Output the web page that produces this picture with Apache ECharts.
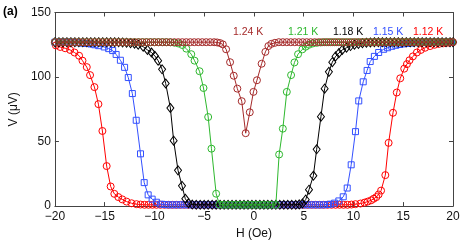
<!DOCTYPE html>
<html><head><meta charset="utf-8">
<script src="https://cdn.jsdelivr.net/npm/echarts@6/dist/echarts.min.js"></script>
<style>html,body{margin:0;padding:0;background:#fff}#c{width:463px;height:245px}</style>
</head><body><div id="c"></div>
<script>
// Temperature labels (series names)
const seriesNames = ['1.12 K', '1.15 K', '1.18 K', '1.21 K', '1.24 K'];
const xTicks = [-20, -15, -10, -5, 0, 5, 10, 15, 20];
const yTicks = [0, 50, 100, 150];

// [H (Oe), V (uV)] pairs
const t112 = [[-19.9,124.5],[-19.47,123.3],[-18.97,122.3],[-18.47,121],[-18.03,119],[-17.57,116.5],[-17.23,112.7],[-16.8,107.7],[-16.47,101.5],[-16.03,92.2],[-15.63,79],[-15.23,58.2],[-14.8,31],[-14.4,15.2],[-14.03,9.5],[-13.63,7],[-13.23,5.2],[-12.8,3.5],[-12.3,2.2],[-11.8,1.5],[-11.4,1.2],[-11.0,1],
[-10.6,1],[-10.2,1],[-9.8,1],[-9.4,1],[-9.0,1],[-8.6,1],[-8.2,1],[-7.8,1],[-7.4,1],[-7.0,1],[-6.6,1],[-6.2,1],[-5.8,1],[-5.4,1],[-5.0,1],[-4.6,1],[-4.2,1],[-3.8,1],[-3.4,1],[-3.0,1],[-2.6,1],[-2.2,1],[-1.8,1],[-1.4,1],[-1.0,1],[-0.6,1],[-0.2,1],[0.2,1],[0.6,1],[1.0,1],[1.4,1],[1.8,1],[2.2,1],[2.6,1],[3.0,1],[3.4,1],[3.8,1],[4.2,1],[4.6,1],[5.0,1],[5.4,1],[5.8,1],[6.2,1],[6.6,1],[7.0,1],[7.4,1],[7.8,1],[8.2,1],[8.6,1],[9.0,1],[9.4,1],[9.8,1.2],[10.2,1.5],
[10.7,2],[11.1,2.7],[11.43,3.5],[11.77,4.5],[12.03,5.7],[12.3,7],[12.53,9],[12.77,12],[13.2,24],[13.53,49],[13.97,72.3],[14.35,88],[14.7,99],[15.1,106.5],[15.37,110],[15.63,113],[15.97,116],[16.37,119],[16.77,121],[17.2,122.7],[17.7,124],[18.15,125],[18.6,125.7],[19.05,126.2],[19.5,126.6],[19.95,127]];

const t115 = [[-20,127],[-19.6,127],[-19.2,127],[-18.8,127],[-18.4,127],[-18.0,126.8],[-17.6,126.6],[-17.2,126.3],[-16.8,126],[-16.4,125.6],[-16.0,125],[-15.6,124.3],[-15.05,123.3],[-14.6,122],[-14.2,120.5],[-13.85,117.5],[-13.42,113],[-13.0,107.5],[-12.63,99.6],[-12.22,87.2],[-11.83,66.5],[-11.4,40.5],[-11.03,18.2],[-10.63,8.7],[-10.23,5.4],[-9.8,3],[-9.37,1.5],[-8.97,1.2],
[-8.6,1],[-8.2,1],[-7.8,1],[-7.4,1],[-7.0,1],[-6.6,1],[-6.2,1],[-5.8,1],[-5.4,1],[-5.0,1],[-4.6,1],[-4.2,1],[-3.8,1],[-3.4,1],[-3.0,1],[-2.6,1],[-2.2,1],[-1.8,1],[-1.4,1],[-1.0,1],[-0.6,1],[-0.2,1],[0.2,1],[0.6,1],[1.0,1],[1.4,1],[1.8,1],[2.2,1],[2.6,1],[3.0,1],[3.4,1],[3.8,1],[4.2,1],[4.6,1],[5.0,1],[5.4,1],[5.8,1],[6.2,1],[6.6,1],[7.0,1],[7.4,1.2],[7.7,1.5],
[8.1,2.3],[8.53,4],[8.97,7.2],[9.37,14],[9.77,32],[10.2,57.7],[10.53,81.5],[10.98,96.3],[11.37,105.1],[11.68,112],[12.1,116],[12.53,119],[13.03,121.5],[13.43,122.7],[13.85,123.8],[14.25,124.6],[14.65,125.2],[15.05,125.7],[15.45,126],[15.85,126.3],[16.25,126.6],[16.65,126.8],[17.05,127],[17.45,127],[17.85,127],[18.25,127],[18.65,127],[19.05,127],[19.45,127],[19.85,127]];

const t118 = [[-20,127],[-19.6,127],[-19.2,127],[-18.8,127],[-18.4,127],[-18.0,127],[-17.6,127],[-17.2,127],[-16.8,127],[-16.4,127],[-16.0,127],[-15.6,127],[-15.2,127],[-14.8,127],[-14.4,127],[-14.0,127],[-13.6,126.9],[-13.2,126.8],[-12.8,126.6],[-12.4,126.3],[-12.0,125.8],[-11.63,125],[-11.13,123.5],[-10.7,121],[-10.3,119],[-9.97,116.5],[-9.63,112.7],[-9.23,106],[-8.87,95],[-8.4,76],[-8.07,50.7],[-7.63,27.7],[-7.23,15.7],[-6.9,5.7],[-6.57,2.2],[-6.2,1.2],
[-5.8,1],[-5.4,1],[-5.0,1],[-4.6,1],[-4.2,1],[-3.8,1],[-3.4,1],[-3.0,1],[-2.6,1],[-2.2,1],[-1.8,1],[-1.4,1],[-1.0,1],[-0.6,1],[-0.2,1],[0.2,1],[0.6,1],[1.0,1],[1.4,1],[1.8,1],[2.2,1],[2.6,1],[3.0,1],[3.4,1],[3.8,1],[4.2,1],[4.55,1.3],
[4.87,2],[5.2,5],[5.53,12.7],[5.97,23.5],[6.3,44],[6.73,69.3],[7.1,91],[7.53,104],[7.87,111.5],[8.2,116],[8.53,118.5],[8.87,121],[9.3,122.7],[9.7,124],[10.1,125],[10.5,125.7],[10.9,126.2],[11.3,126.6],[11.7,126.8],[12.1,127],[12.5,127],[12.9,127],[13.3,127],[13.7,127],[14.1,127],[14.5,127],[14.9,127],[15.3,127],[15.7,127],[16.1,127],[16.5,127],[16.9,127],[17.3,127],[17.7,127],[18.1,127],[18.5,127],[18.9,127],[19.3,127],[19.7,127],[20,127]];

const t121 = [[-20,127],[-19.6,127],[-19.2,127],[-18.8,127],[-18.4,127],[-18.0,127],[-17.6,127],[-17.2,127],[-16.8,127],[-16.4,127],[-16.0,127],[-15.6,127],[-15.2,127],[-14.8,127],[-14.4,127],[-14.0,127],[-13.6,127],[-13.2,127],[-12.8,127],[-12.4,127],[-12.0,127],[-11.6,127],[-11.2,127],[-10.8,127],[-10.4,127],[-10.0,127],[-9.6,127],[-9.2,127],[-8.8,127],[-8.4,126.9],[-8.0,126.6],[-7.6,126],[-7.2,124.8],[-6.8,122],[-6.3,117.7],[-5.97,112.7],[-5.47,104.5],[-5.07,91.5],[-4.6,69],[-4.27,44.5],[-3.8,9.6],[-3.47,1.2],
[-3.1,1],[-2.7,1],[-2.3,1],[-1.9,1],[-1.5,1],[-1.1,1],[-0.7,1],[-0.3,1],[0.1,1],[0.5,1],[0.9,1],[1.3,1],[1.7,1],[2.2,1],
[2.53,40],[2.9,60],[3.3,88.5],[3.73,101.5],[4.07,111.3],[4.43,117.7],[4.87,121.5],[5.2,123.5],[5.53,125],[5.9,126],[6.3,126.5],[6.7,126.8],[7.1,127],[7.5,127],[7.9,127],[8.3,127],[8.7,127],[9.1,127],[9.5,127],[9.9,127],[10.3,127],[10.7,127],[11.1,127],[11.5,127],[11.9,127],[12.3,127],[12.7,127],[13.1,127],[13.5,127],[13.9,127],[14.3,127],[14.7,127],[15.1,127],[15.5,127],[15.9,127],[16.3,127],[16.7,127],[17.1,127],[17.5,127],[17.9,127],[18.3,127],[18.7,127],[19.1,127],[19.5,127],[19.9,127]];

const t124 = [[-20,127],[-19.6,127],[-19.2,127],[-18.8,127],[-18.4,127],[-18.0,127],[-17.6,127],[-17.2,127],[-16.8,127],[-16.4,127],[-16.0,127],[-15.6,127],[-15.2,127],[-14.8,127],[-14.4,127],[-14.0,127],[-13.6,127],[-13.2,127],[-12.8,127],[-12.4,127],[-12.0,127],[-11.6,127],[-11.2,127],[-10.8,127],[-10.4,127],[-10.0,127],[-9.6,127],[-9.2,127],[-8.8,127],[-8.4,127],[-8.0,127],[-7.6,127],[-7.2,127],[-6.8,127],[-6.4,127],[-6.0,127],[-5.6,127],[-5.2,127],[-4.8,127],[-4.4,127],[-4.0,127],[-3.7,126.8],[-3.4,126.3],[-3.13,125.3],[-2.8,121.5],[-2.4,111.5],[-2.03,101],[-1.67,91],[-1.23,81.3],[-0.83,56.5],[-0.42,72.7],[-0.05,88.5],[0.3,97.5],[0.77,110.3],[1.15,119.5],[1.45,124],[1.75,125.7],[2.1,126.5],[2.5,127],[2.9,127],[3.3,127],[3.7,127],[4.1,127],[4.5,127],[4.9,127],[5.3,127],[5.7,127],[6.1,127],[6.5,127],[6.9,127],[7.3,127],[7.7,127],[8.1,127],[8.5,127],[8.9,127],[9.3,127],[9.7,127],[10.1,127],[10.5,127],[10.9,127],[11.3,127],[11.7,127],[12.1,127],[12.5,127],[12.9,127],[13.3,127],[13.7,127],[14.1,127],[14.5,127],[14.9,127],[15.3,127],[15.7,127],[16.1,127],[16.5,127],[16.9,127],[17.3,127],[17.7,127],[18.1,127],[18.5,127],[18.9,127],[19.3,127],[19.7,127],[20,127]];

const seriesData = [t112, t115, t118, t121, t124];
const colors = ['#ff0000', '#3350ff', '#000000', '#2eb82e', '#a52a2a'];
const symbols = ['circle', 'rect', 'diamond', 'circle', 'circle'];
const symbolSizes = [7, 6, [7, 9], 7, 7];
const labelLeft = [413, 373, 333, 288, 233];

const FONT = '"Liberation Sans", Arial, Helvetica, sans-serif';
const minus = v => String(v).replace('-', '\u2212');

const axisCommon = {
  type: 'value', min: -20, max: 20, interval: 5,
  axisLine: { show: true, onZero: false, lineStyle: { color: '#444', width: 1 } },
  axisTick: { show: true, inside: true, length: 4, lineStyle: { color: '#444' } },
  splitLine: { show: false }
};

const chart = echarts.init(document.getElementById('c'), null, { renderer: 'canvas' });
chart.setOption({
  animation: false,
  backgroundColor: '#fff',
  textStyle: { fontFamily: FONT },
  grid: { left: 53, right: 10, top: 12.5, bottom: 33, containLabel: false },
  xAxis: [
    Object.assign({}, axisCommon, {
      position: 'bottom',
      axisLabel: { show: true, margin: 5, fontSize: 12, color: '#111', fontFamily: FONT, formatter: minus,
        customValues: xTicks },
      name: 'H (Oe)', nameLocation: 'middle', nameGap: 17,
      nameTextStyle: { fontSize: 12, color: '#111', fontFamily: FONT }
    }),
    Object.assign({}, axisCommon, { position: 'top', axisLabel: { show: false } })
  ],
  yAxis: [
    Object.assign({}, axisCommon, {
      min: 0, max: 150, interval: 50, position: 'left',
      axisLabel: { show: true, margin: 4, fontSize: 12, color: '#111', fontFamily: FONT },
      name: 'V (\u03bcV)', nameLocation: 'middle', nameGap: 29, nameRotate: 90,
      nameTextStyle: { fontSize: 12, color: '#111', fontFamily: FONT }
    }),
    Object.assign({}, axisCommon, { min: 0, max: 150, interval: 50, position: 'right', axisLabel: { show: false } })
  ],
  series: seriesData.map((d, i) => ({
    name: seriesNames[i],
    type: 'line',
    data: d,
    xAxisIndex: 0, yAxisIndex: 0,
    symbol: symbols[i], symbolSize: symbolSizes[i],
    showSymbol: true, showAllSymbol: true,
    lineStyle: { color: colors[i], width: 1 },
    itemStyle: { color: 'rgba(255,255,255,0)', borderColor: colors[i], borderWidth: 1 },
    emphasis: { disabled: true },
    z: 2 + i
  })),
  graphic: [
    { type: 'text', left: 3, top: 6, style: { text: '(a)', font: 'bold 12px ' + FONT, fill: '#000' } }
  ].concat(seriesNames.map((n, i) => ({
    type: 'text', left: labelLeft[i], top: 27,
    style: { text: n, font: '10.5px ' + FONT, fill: colors[i] }
  })))
});
</script></body></html>
